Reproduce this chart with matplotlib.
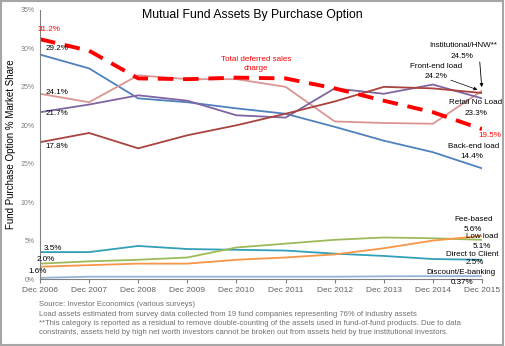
import matplotlib
matplotlib.use("Agg")
from matplotlib import pyplot as plt
from matplotlib.patches import Rectangle

plt.rcParams['font.family'] = 'sans-serif'
plt.rcParams['font.sans-serif'] = ['Liberation Sans', 'DejaVu Sans']

years = ["Dec 2006", "Dec 2007", "Dec 2008", "Dec 2009", "Dec 2010",
         "Dec 2011", "Dec 2012", "Dec 2013", "Dec 2014", "Dec 2015"]

# market share in %
back_end = [29.2, 27.4, 23.5, 23.0, 22.2, 21.5, 19.8, 18.0, 16.5, 14.4]
deferred = [31.2, 29.7, 26.1, 26.0, 26.2, 26.1, 24.8, 23.2, 21.7, 19.5]
institutional = [24.1, 23.0, 26.5, 26.0, 26.0, 25.0, 20.5, 20.3, 20.2, 24.5]
retail_no_load = [21.7, 22.7, 23.9, 23.2, 21.3, 21.0, 24.8, 24.1, 25.3, 23.5]
front_end = [17.8, 19.0, 17.0, 18.7, 20.0, 21.5, 23.1, 25.0, 24.8, 24.2]
direct_client = [3.5, 3.5, 4.3, 3.9, 3.8, 3.7, 3.3, 3.0, 2.6, 2.5]
low_load = [2.0, 2.3, 2.5, 2.8, 4.1, 4.6, 5.1, 5.4, 5.3, 5.1]
fee_based = [1.6, 1.8, 2.0, 2.0, 2.5, 2.8, 3.2, 4.0, 5.0, 5.6]
discount = [0.15, 0.3, 0.3, 0.3, 0.3, 0.3, 0.3, 0.35, 0.37, 0.37]

x = list(range(len(years)))

fig = plt.figure(figsize=(5.05, 3.46), dpi=100)
ax = fig.add_axes([40/505, 1-279/346, 442/505, 269/346])

ax.plot(x, back_end, color="#4F81BD", lw=1.3)
ax.plot(x, institutional, color="#D99694", lw=1.3)
ax.plot(x, retail_no_load, color="#8064A2", lw=1.3)
ax.plot(x, front_end, color="#A9433E", lw=1.3)
ax.plot(x, deferred, color="#FF0000", lw=2.8, dashes=(4, 2.5))
ax.plot(x, direct_client, color="#31A0B8", lw=1.3)
ax.plot(x, low_load, color="#9BBB59", lw=1.3)
ax.plot(x, fee_based, color="#F79646", lw=1.3)
ax.plot(x, discount, color="#95B3D7", lw=1.3)

ax.set_xlim(0, 9)
ax.set_ylim(0, 35)
ax.set_yticks(range(0, 36, 5))
ax.set_yticklabels([f"{v}%" for v in range(0, 36, 5)])
ax.set_xticks(x)
ax.set_xticklabels(years)
ax.tick_params(axis="y", length=0, labelsize=5, labelcolor="#808080", pad=4)
ax.tick_params(axis="x", length=3, direction="out", color="#808080",
               labelsize=6, labelcolor="#606060", pad=3)
for s in ["top", "right"]:
    ax.spines[s].set_visible(False)
ax.spines["left"].set_color("#808080")
ax.spines["bottom"].set_color("#808080")
ax.set_ylabel("Fund Purchase Option % Market Share", fontsize=7, labelpad=3)

fig.text(0.5, 0.957, "Mutual Fund Assets By Purchase Option",
         ha="center", va="center", fontsize=8.8)

fs = 5.8
labels = [
    # left side
    (0.18, 32.4, "31.2%", "#FF0000"),
    (0.35, 30.05, "29.2%", "black"),
    (0.35, 24.3, "24.1%", "black"),
    (0.35, 21.5, "21.7%", "black"),
    (0.35, 17.2, "17.8%", "black"),
    (0.27, 4.0, "3.5%", "black"),
    (0.12, 2.6, "2.0%", "black"),
    (-0.04, 1.0, "1.6%", "black"),
    # right side
    (8.61, 30.4, "Institutional/HNW**", "black"),
    (8.6, 29.0, "24.5%", "black"),
    (8.06, 27.7, "Front-end load", "black"),
    (8.06, 26.4, "24.2%", "black"),
    (8.86, 22.9, "Retail No Load", "black"),
    (8.88, 21.5, "23.3%", "black"),
    (9.16, 18.7, "19.5%", "#FF0000"),
    (8.82, 17.2, "Back-end load", "black"),
    (8.8, 15.9, "14.4%", "black"),
    (8.82, 7.7, "Fee-based", "black"),
    (8.82, 6.5, "5.6%", "black"),
    (9.0, 5.5, "Low load", "black"),
    (9.0, 4.2, "5.1%", "black"),
    (8.8, 3.25, "Direct to Client", "black"),
    (8.86, 2.1, "2.5%", "black"),
    (8.57, 0.8, "Discount/E-banking", "black"),
    (8.6, -0.4, "0.37%", "black"),
]
for tx, ty, s, c in labels:
    ax.text(tx, ty, s, fontsize=fs, color=c, ha="center", va="center", clip_on=False)

ax.text(4.4, 28.0, "Total deferred sales\ncharge", color="#FF0000", fontsize=fs,
        ha="center", va="center", linespacing=1.5)

ax.annotate("", xy=(9, 24.6), xytext=(8.95, 28.6),
            arrowprops=dict(arrowstyle="-|>", color="black", lw=0.6, mutation_scale=5))
ax.annotate("", xy=(8.96, 24.5), xytext=(8.31, 26.0),
            arrowprops=dict(arrowstyle="-|>", color="black", lw=0.5, mutation_scale=5))

notes = [
    "Source: Investor Economics (various surveys)",
    "Load assets estimated from survey data collected from 19 fund companies representing 76% of industry assets",
    "**This category is reported as a residual to remove double-counting of the assets used in fund-of-fund products. Due to data",
    "constraints, assets held by high net worth investors cannot be broken out from assets held by true institutional investors.",
]
for i, n in enumerate(notes):
    fig.text(39/505, 1 - (305 + 9.3*i)/346, n, fontsize=5.5, color="#707070", va="center")

fig.patches.append(Rectangle((0.002, 0.004), 0.994, 0.992, transform=fig.transFigure,
                             fill=False, edgecolor="#A6A6A6", lw=1.5))

plt.savefig("out.png", dpi=100)
plt.close()
